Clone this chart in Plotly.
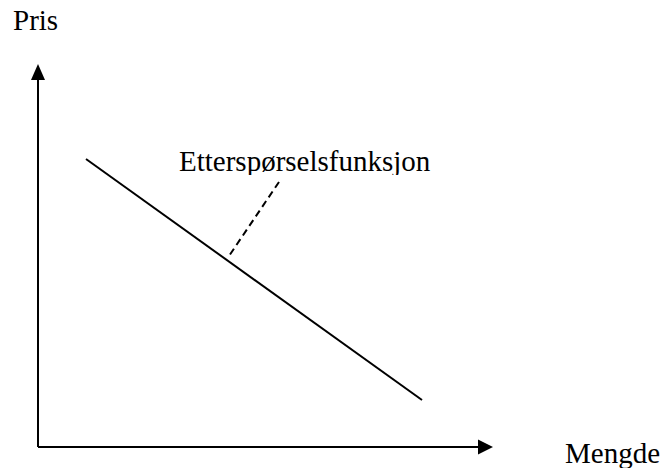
import plotly.graph_objects as go

# Data (chart units: origin at the axes corner)
demand_quantity = [48, 384]
demand_price = [288, 47]
leader_quantity = [241, 191]
leader_price = [265, 191]
y_label = "Pris"
x_label = "Mengde"
curve_label = "Etterspørselsfunksjon"
label_quantity = [141]
label_price = [283]

FONT = dict(family="Liberation Serif, Times New Roman, serif", size=29, color="black")

fig = go.Figure()
fig.add_trace(go.Scatter(x=demand_quantity, y=demand_price, mode="lines",
                         line=dict(color="black", width=2), hoverinfo="skip", showlegend=False))
fig.add_trace(go.Scatter(x=leader_quantity, y=leader_price, mode="lines",
                         line=dict(color="black", width=2, dash="7px,4.5px"), hoverinfo="skip", showlegend=False))
fig.add_trace(go.Scatter(x=label_quantity, y=label_price, mode="text", text=[curve_label],
                         textposition="middle right", textfont=FONT, hoverinfo="skip", showlegend=False))

shapes = [
    dict(type="line", x0=0, y0=0, x1=0, y1=368, line=dict(color="black", width=2)),
    dict(type="line", x0=0, y0=0, x1=441, y1=0, line=dict(color="black", width=2)),
    dict(type="path", path="M -7,367 L 7,367 L 0,383 Z", fillcolor="black", line=dict(color="black", width=0)),
    dict(type="path", path="M 440,-7.5 L 440,7.5 L 455,0 Z", fillcolor="black", line=dict(color="black", width=0)),
    # text box edge hiding the descenders, as in the original
    dict(type="rect", x0=135, x1=405, y0=266, y1=272, fillcolor="white", line=dict(width=0), layer="above"),
]

annotations = [
    dict(x=-27, y=427.5, text=y_label, showarrow=False, xanchor="left", yanchor="middle", font=FONT),
    dict(x=525, y=-5.5, text=x_label, showarrow=False, xanchor="left", yanchor="middle", font=FONT),
]

fig.update_layout(
    width=662, height=468,
    margin=dict(l=0, r=0, t=0, b=0),
    paper_bgcolor="white", plot_bgcolor="white",
    xaxis=dict(range=[-38, 624], visible=False, fixedrange=True),
    yaxis=dict(range=[-21, 447], visible=False, fixedrange=True),
    shapes=shapes, annotations=annotations, showlegend=False,
)
fig.write_html("out.html", config={"displayModeBar": False},
               post_script="document.body.style.margin='0';document.body.style.overflow='hidden';")
